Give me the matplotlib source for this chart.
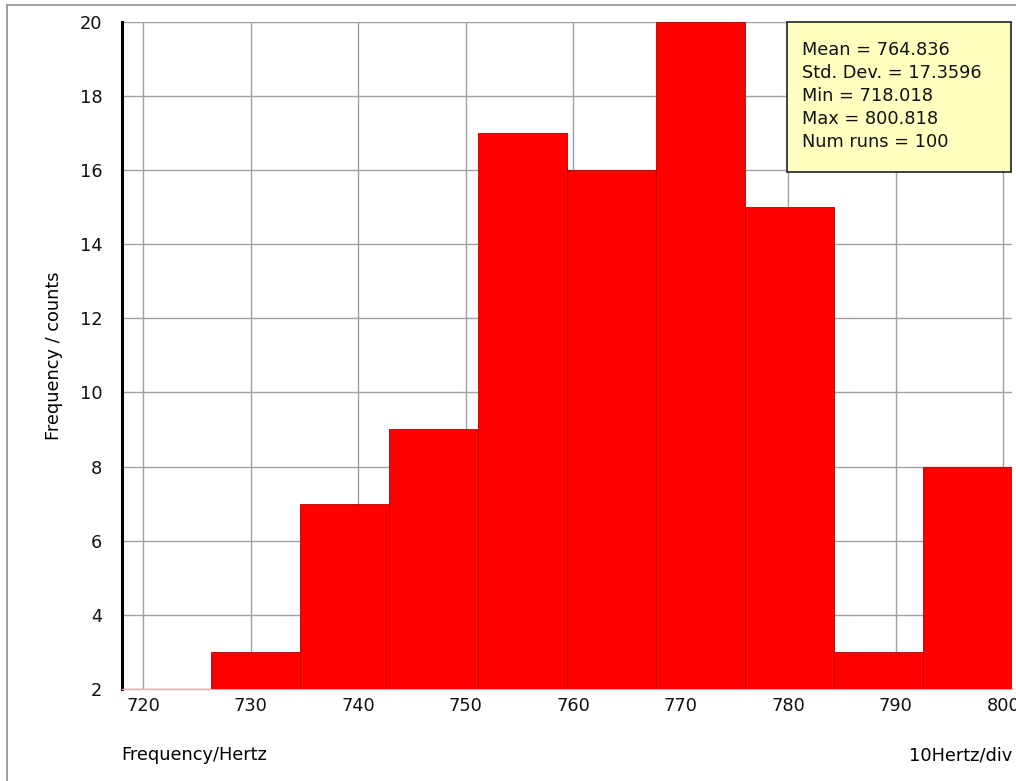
import numpy as np
import matplotlib
matplotlib.use("Agg")
import matplotlib.pyplot as plt
from matplotlib.lines import Line2D

# histogram of 100 runs, 10 bins between min and max
x_min = 718.018
x_max = 800.818
counts = [2, 3, 7, 9, 17, 16, 20, 15, 3, 8]
x_ticks = [720, 730, 740, 750, 760, 770, 780, 790, 800]
y_ticks = [2, 4, 6, 8, 10, 12, 14, 16, 18, 20]
stats_lines = ["Mean = 764.836", "Std. Dev. = 17.3596", "Min = 718.018",
               "Max = 800.818", "Num runs = 100"]

plt.rcParams['font.family'] = ['DejaVu Sans']
fs = 12.8

edges = np.linspace(x_min, x_max, len(counts) + 1)
width = edges[1] - edges[0]

fig = plt.figure(figsize=(10.16, 7.81), dpi=100)
ax = fig.add_axes([0.120, 0.1178, 0.876, 0.8544])

ax.bar(edges[:-1], counts, width=width, align='edge', color='#ff0000',
       edgecolor='#b40000', linewidth=0.6, zorder=3)

ax.set_xlim(x_min, x_max)
ax.set_ylim(2, 20)
ax.set_xticks(x_ticks)
ax.set_yticks(y_ticks)
ax.grid(True, color='#a0a0a0', linewidth=1.0, zorder=0)
ax.set_axisbelow(True)

for s in ['top', 'right']:
    ax.spines[s].set_visible(False)
ax.spines['left'].set_linewidth(2.2)
ax.spines['left'].set_color('black')
ax.spines['bottom'].set_color('#e0b0b0')
ax.spines['bottom'].set_linewidth(1.0)
ax.tick_params(axis='both', length=0, labelsize=fs, colors='#111111')
ax.tick_params(axis='y', pad=14)
ax.tick_params(axis='x', pad=6)

ax.set_ylabel("Frequency / counts", fontsize=fs, labelpad=12)
fig.text(121 / 1016, 1 - 755 / 781, "Frequency/Hertz", fontsize=fs,
         ha='left', va='center')
fig.text(1012 / 1016, 1 - 755 / 781, "10Hertz/div", fontsize=fs,
         ha='right', va='center')

# stats box
box = plt.Rectangle((787 / 1016, 1 - 172 / 781), 224 / 1016, 150 / 781,
                    transform=fig.transFigure, facecolor='#ffffc0',
                    edgecolor='#222222', linewidth=1.2, zorder=5)
fig.patches.append(box)
for i, line in enumerate(stats_lines):
    fig.text(802 / 1016, 1 - (50 + 23 * i) / 781, line, fontsize=fs,
             ha='left', va='center', color='#111111', zorder=6)

# outer frame lines
fig.add_artist(Line2D([7 / 1016, 1], [1 - 5 / 781, 1 - 5 / 781],
                      transform=fig.transFigure, color='#909090', lw=1.2))
fig.add_artist(Line2D([7 / 1016, 7 / 1016], [0, 1 - 5 / 781],
                      transform=fig.transFigure, color='#909090', lw=1.2))

fig.savefig("out.png", dpi=100)
